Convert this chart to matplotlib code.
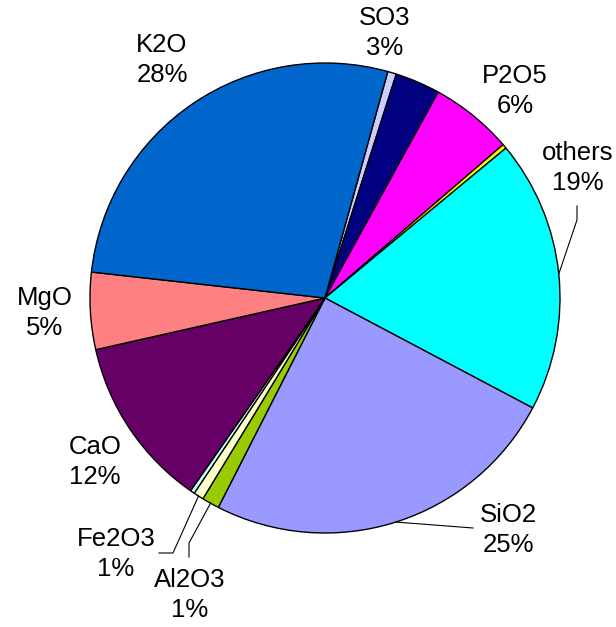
import numpy as np
import matplotlib
matplotlib.use("Agg")
import matplotlib.pyplot as plt

plt.rcParams['font.family'] = ['Liberation Sans', 'DejaVu Sans']

# data (clockwise from top)
names = ["", "SO3", "P2O5", "", "others", "SiO2", "Al2O3", "Fe2O3", "", "CaO", "MgO", "K2O"]
values = [0.6, 3.1, 5.7, 0.3, 18.8, 24.8, 1.2, 0.7, 0.3, 11.8, 5.3, 27.6]
colors = ["#CCCCFF", "#000080", "#FF00FF", "#FFFF00", "#00FFFF", "#9999FF",
          "#99CC00", "#FFFFCC", "#CCFFFF", "#660066", "#FF8080", "#0066CC"]

W, H = 616, 627
CX, CY, R = 325, 298, 235


def px(x, y):
    return ((x - CX) / R, (CY - y) / R)


# label centre positions (pixels) and optional leader elbows (pixels)
label_pos = {
    "SO3": (385, 33), "P2O5": (515, 91), "others": (578, 168),
    "SiO2": (508, 530), "Al2O3": (190, 595), "Fe2O3": (116, 554),
    "CaO": (95, 462), "MgO": (45, 313), "K2O": (162, 60),
}
leaders = {
    "others": [(577, 220), (577, 206)],
    "SiO2": [(473, 528)],
    "Al2O3": [(189, 543), (189, 557)],
    "Fe2O3": [(173, 553), (159, 553)],
}

fig = plt.figure(figsize=(W / 100, H / 100), dpi=100)
ax = fig.add_axes([0, 0, 1, 1])
wedges, _ = ax.pie(values, colors=colors, startangle=74.5, counterclock=False,
                   radius=1, center=(0, 0),
                   wedgeprops=dict(edgecolor="black", linewidth=1.0))
ax.set_xlim((0 - CX) / R, (W - CX) / R)
ax.set_ylim((CY - H) / R, CY / R)
ax.set_aspect("equal")
ax.axis("off")

total = sum(values)
for w, name, v in zip(wedges, names, values):
    if not name:
        continue
    pct = round(100 * v / total)
    lx, ly = px(*label_pos[name])
    ax.text(lx, ly, f"{name}\n{pct}%", ha="center", va="center",
            multialignment="center", fontsize=18.5, linespacing=1.32, color="black")
    if name in leaders:
        mid = np.deg2rad((w.theta1 + w.theta2) / 2)
        pts = [(np.cos(mid), np.sin(mid))] + [px(*p) for p in leaders[name]]
        xs, ys = zip(*pts)
        ax.plot(xs, ys, color="black", linewidth=0.8)

fig.savefig("out.png", dpi=100)
